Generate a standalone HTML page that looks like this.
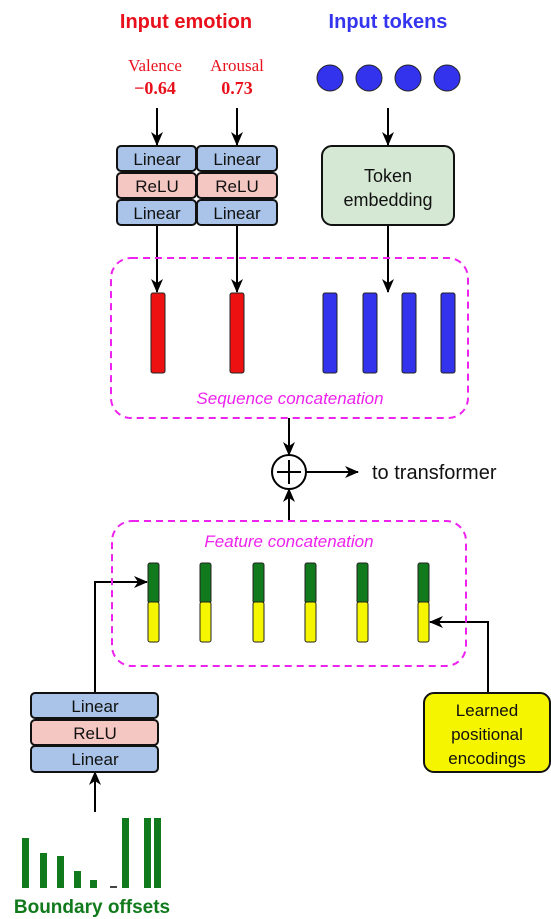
<!DOCTYPE html>
<html><head><meta charset="utf-8"><style>
html,body{margin:0;padding:0;background:#fff;}
svg{display:block;}
text{font-family:"Liberation Sans",sans-serif;}
</style></head><body>
<svg width="551" height="919" viewBox="0 0 551 919" xmlns="http://www.w3.org/2000/svg">
<defs>
<marker id="ah" markerWidth="14" markerHeight="14" refX="13" refY="7" orient="auto" markerUnits="userSpaceOnUse">
<path d="M0,1 L14,7 L0,13 L4,7 z" fill="#000"/>
</marker>
</defs>
<text x="186" y="28" text-anchor="middle" font-size="20" font-weight="bold" fill="#e8111b">Input emotion</text>
<text x="388" y="28" text-anchor="middle" font-size="20" font-weight="bold" fill="#3535f0">Input tokens</text>
<text x="155" y="71" text-anchor="middle" font-size="17" fill="#e8111b" style="font-family:'Liberation Serif',serif">Valence</text>
<text x="155" y="94" text-anchor="middle" font-size="18" font-weight="bold" fill="#e8111b" style="font-family:'Liberation Serif',serif">−0.64</text>
<text x="237" y="71" text-anchor="middle" font-size="17" fill="#e8111b" style="font-family:'Liberation Serif',serif">Arousal</text>
<text x="237" y="94" text-anchor="middle" font-size="18" font-weight="bold" fill="#e8111b" style="font-family:'Liberation Serif',serif">0.73</text>
<g fill="#3333ee" stroke="#222" stroke-width="1">
<circle cx="330" cy="78" r="13"/><circle cx="369" cy="78" r="13"/><circle cx="408" cy="78" r="13"/><circle cx="447" cy="78" r="13"/>
</g>
<g stroke="#000" stroke-width="2" fill="none" marker-end="url(#ah)">
<line x1="157" y1="108" x2="157" y2="145"/>
<line x1="237" y1="108" x2="237" y2="145"/>
<line x1="388" y1="108" x2="388" y2="145"/>
<line x1="157" y1="225" x2="157" y2="292"/>
<line x1="237" y1="225" x2="237" y2="292"/>
<line x1="388" y1="225" x2="388" y2="292"/>
</g>
<g stroke="#111" stroke-width="2">
<rect x="117" y="146" width="79" height="25" rx="4" fill="#a9c4e8"/>
<rect x="117" y="173" width="79" height="25" rx="4" fill="#f5c7c3"/>
<rect x="117" y="200" width="79" height="25" rx="4" fill="#a9c4e8"/>
<rect x="197" y="146" width="80" height="25" rx="4" fill="#a9c4e8"/>
<rect x="197" y="173" width="80" height="25" rx="4" fill="#f5c7c3"/>
<rect x="197" y="200" width="80" height="25" rx="4" fill="#a9c4e8"/>
<rect x="322" y="146" width="132" height="79" rx="10" fill="#d5e8d4"/>
</g>
<g font-size="17" fill="#111" text-anchor="middle">
<text x="157" y="165">Linear</text><text x="157" y="192">ReLU</text><text x="157" y="219">Linear</text>
<text x="237" y="165">Linear</text><text x="237" y="192">ReLU</text><text x="237" y="219">Linear</text>
<text x="388" y="182" font-size="18">Token</text><text x="388" y="206" font-size="18">embedding</text>
</g>
<rect x="111" y="258" width="357" height="160" rx="20" fill="none" stroke="#ee22ee" stroke-width="2" stroke-dasharray="7,5"/>
<g stroke="#222" stroke-width="1">
<rect x="151" y="293" width="14" height="80" rx="2" fill="#ee1111"/>
<rect x="230" y="293" width="14" height="80" rx="2" fill="#ee1111"/>
<rect x="323" y="293" width="14" height="80" rx="2" fill="#3333ee"/>
<rect x="363" y="293" width="14" height="80" rx="2" fill="#3333ee"/>
<rect x="402" y="293" width="14" height="80" rx="2" fill="#3333ee"/>
<rect x="441" y="293" width="14" height="80" rx="2" fill="#3333ee"/>
</g>
<text x="290" y="404" text-anchor="middle" font-size="17" font-style="italic" fill="#ee22ee">Sequence concatenation</text>
<circle cx="289" cy="472" r="17" fill="#fff" stroke="#000" stroke-width="2"/>
<line x1="277" y1="472" x2="301" y2="472" stroke="#000" stroke-width="2"/>
<line x1="289" y1="460" x2="289" y2="484" stroke="#000" stroke-width="2"/>
<g stroke="#000" stroke-width="2" fill="none" marker-end="url(#ah)">
<line x1="289" y1="418" x2="289" y2="455"/>
<line x1="306" y1="472" x2="358" y2="472"/>
<line x1="289" y1="520" x2="289" y2="489"/>
<polyline points="95,693 95,582 147,582"/>
<polyline points="488,693 488,622 430,622"/>
<line x1="95" y1="812" x2="95" y2="772"/>
</g>
<text x="372" y="479" font-size="20" fill="#111">to transformer</text>
<rect x="112" y="521" width="354" height="145" rx="20" fill="none" stroke="#ee22ee" stroke-width="2" stroke-dasharray="7,5"/>
<text x="289" y="547" text-anchor="middle" font-size="17" font-style="italic" fill="#ee22ee">Feature concatenation</text>
<g stroke="#222" stroke-width="1">
<rect x="148" y="563" width="11" height="40" rx="2" fill="#117a1d"/><rect x="148" y="602" width="11" height="40" rx="2" fill="#f5f500"/>
<rect x="200" y="563" width="11" height="40" rx="2" fill="#117a1d"/><rect x="200" y="602" width="11" height="40" rx="2" fill="#f5f500"/>
<rect x="253" y="563" width="11" height="40" rx="2" fill="#117a1d"/><rect x="253" y="602" width="11" height="40" rx="2" fill="#f5f500"/>
<rect x="305" y="563" width="11" height="40" rx="2" fill="#117a1d"/><rect x="305" y="602" width="11" height="40" rx="2" fill="#f5f500"/>
<rect x="357" y="563" width="11" height="40" rx="2" fill="#117a1d"/><rect x="357" y="602" width="11" height="40" rx="2" fill="#f5f500"/>
<rect x="418" y="563" width="11" height="40" rx="2" fill="#117a1d"/><rect x="418" y="602" width="11" height="40" rx="2" fill="#f5f500"/>
</g>
<rect x="424" y="693" width="126" height="79" rx="10" fill="#f5f500" stroke="#111" stroke-width="2"/>
<g font-size="17" fill="#111" text-anchor="middle">
<text x="487" y="716">Learned</text><text x="487" y="740">positional</text><text x="487" y="764">encodings</text>
</g>
<g stroke="#111" stroke-width="2">
<rect x="31" y="693" width="127" height="25" rx="4" fill="#a9c4e8"/>
<rect x="31" y="720" width="127" height="25" rx="4" fill="#f5c7c3"/>
<rect x="31" y="746" width="127" height="26" rx="4" fill="#a9c4e8"/>
</g>
<g font-size="17" fill="#111" text-anchor="middle">
<text x="95" y="712">Linear</text><text x="95" y="739">ReLU</text><text x="95" y="765">Linear</text>
</g>
<g fill="#117a1d">
<rect x="22" y="838" width="7" height="50"/>
<rect x="40" y="853" width="7" height="35"/>
<rect x="57" y="856" width="7" height="32"/>
<rect x="74" y="871" width="7" height="17"/>
<rect x="90" y="880" width="7" height="8"/>
<rect x="122" y="818" width="7" height="70"/>
<rect x="144" y="818" width="7" height="70"/>
<rect x="154" y="818" width="7" height="70"/>
</g>
<rect x="110" y="886" width="7" height="2" fill="#444"/>
<text x="92" y="913" text-anchor="middle" font-size="19" font-weight="bold" fill="#117a1d">Boundary offsets</text>
</svg>
</body></html>
